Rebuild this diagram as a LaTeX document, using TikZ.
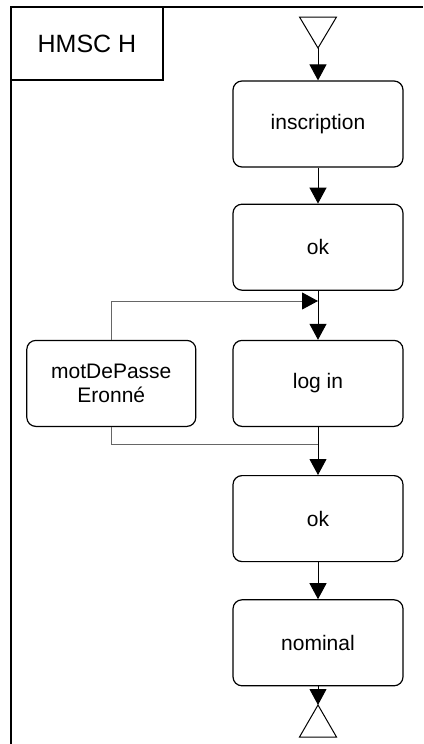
\documentclass[tikz,border=0pt]{standalone}
\usepackage{fontspec}
\setmainfont{Liberation Sans}
\usetikzlibrary{positioning,arrows.meta}

\begin{document}
\begin{tikzpicture}[
    x=1pt, y=-1pt,
    node distance=36pt,
    refbox/.style={draw, line width=1.2pt, rounded corners=9pt,
        minimum width=170pt, minimum height=86pt, align=center,
        font=\fontsize{21}{24}\selectfont},
    flow/.style={line width=1pt, -{Triangle[width=17pt,length=16pt]}},
    loopline/.style={draw=black!60, line width=1pt}
]
\useasboundingbox (0,0) rectangle (423,744);
% frame and title
\draw[line width=1.2pt] (11,744) -- (11,7) -- (423,7);
\node[draw, line width=1.2pt, minimum width=152pt, minimum height=73pt,
    font=\fontsize{25}{28}\selectfont] (title) at (87,43.5) {HMSC H};

% start and end symbols
\coordinate (start) at (318,48);
\coordinate (stop) at (318,705);
\draw[line width=1pt] (start) -- ++(-18.5,-31) -- ++(37,0) -- cycle;
\draw[line width=1pt] (stop) -- ++(-18.5,32) -- ++(37,0) -- cycle;

% main column
\node[refbox] (inscription) at (318,124) {inscription};
\node[refbox, below=36pt of inscription] (ok1) {ok};
\node[refbox, below=49pt of ok1] (login) {log in};
\node[refbox, below=48pt of login] (ok2) {ok};
\node[refbox, below=37pt of ok2] (nominal) {nominal};
\node[refbox, left=36pt of login, minimum width=169pt] (wrongpw) {motDePasse\\Eronné};

\coordinate (join) at (login.north |- 0,301);
\coordinate (merge) at (login.south |- 0,444);

\draw[flow] (start) -- (inscription);
\draw[flow] (inscription) -- (ok1);
\draw[flow] (ok1) -- (login);
\draw[flow] (login) -- (ok2);
\draw[flow] (ok2) -- (nominal);
\draw[flow] (nominal) -- (stop);

% retry loop
\draw[loopline, -{Triangle[width=17pt,length=16pt,color=black]}] (wrongpw.north) |- (join);
\draw[loopline] (wrongpw.south) |- (merge);
\end{tikzpicture}
\end{document}
